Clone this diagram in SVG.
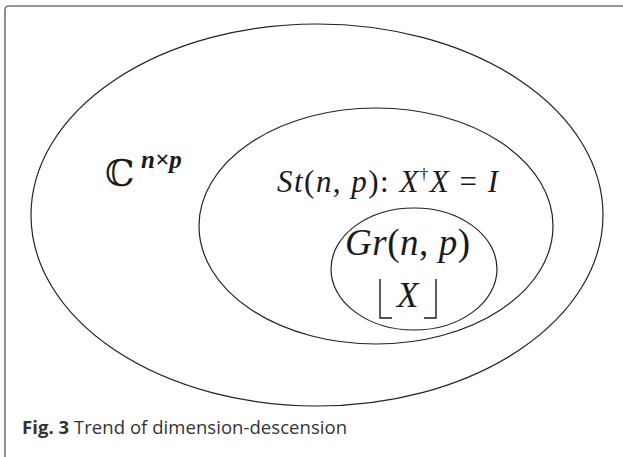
<svg xmlns="http://www.w3.org/2000/svg" width="623" height="457" viewBox="0 0 623 457">
<style>
.e{fill:none;stroke:#222;stroke-width:1.2}
.m{font-family:"Liberation Serif","Times New Roman",serif;font-style:italic;fill:#1a1a1a}
.r{font-family:"Liberation Serif","Times New Roman",serif;font-style:normal}
.cap{font-family:"Open Sans","Noto Sans",sans-serif;font-size:18.5px;fill:#333}
</style>
<rect width="623" height="457" fill="#fff"/>
<path d="M5,457 V10 Q5,6 9,6 H623" fill="none" stroke="#777" stroke-width="1.6"/>
<g id="complex">
<ellipse class="e" cx="317" cy="215" rx="286" ry="191"/>
<text x="105" y="186" font-family="DejaVu Serif,serif" font-size="37" fill="#1a1a1a">ℂ</text>
<text x="141" y="168" class="m" font-size="25" font-weight="bold">n×p</text>
</g>
<g id="stiefel">
<ellipse class="e" cx="376" cy="226" rx="177" ry="118"/>
<text x="277" y="192" class="m" font-size="31" textLength="221">St<tspan class="r">(</tspan>n<tspan class="r">, </tspan>p<tspan class="r">): </tspan>X<tspan class="r" font-size="17" dy="-12">†</tspan><tspan dy="12">X</tspan><tspan class="r"> = </tspan>I</text>
</g>
<g id="grassmann">
<ellipse class="e" cx="414" cy="269" rx="83" ry="61"/>
<text x="345" y="255" class="m" font-size="37" textLength="125">Gr<tspan class="r">(</tspan>n<tspan class="r">, </tspan>p<tspan class="r">)</tspan></text>
<path d="M380,279 V318 H392 M436,279 V318 H424" fill="none" stroke="#1a1a1a" stroke-width="1.4"/>
<text x="397" y="307" class="m" font-size="35">X</text>
</g>
<text x="22" y="434" class="cap" textLength="325"><tspan font-weight="bold">Fig. 3</tspan> Trend of dimension-descension</text>
</svg>
